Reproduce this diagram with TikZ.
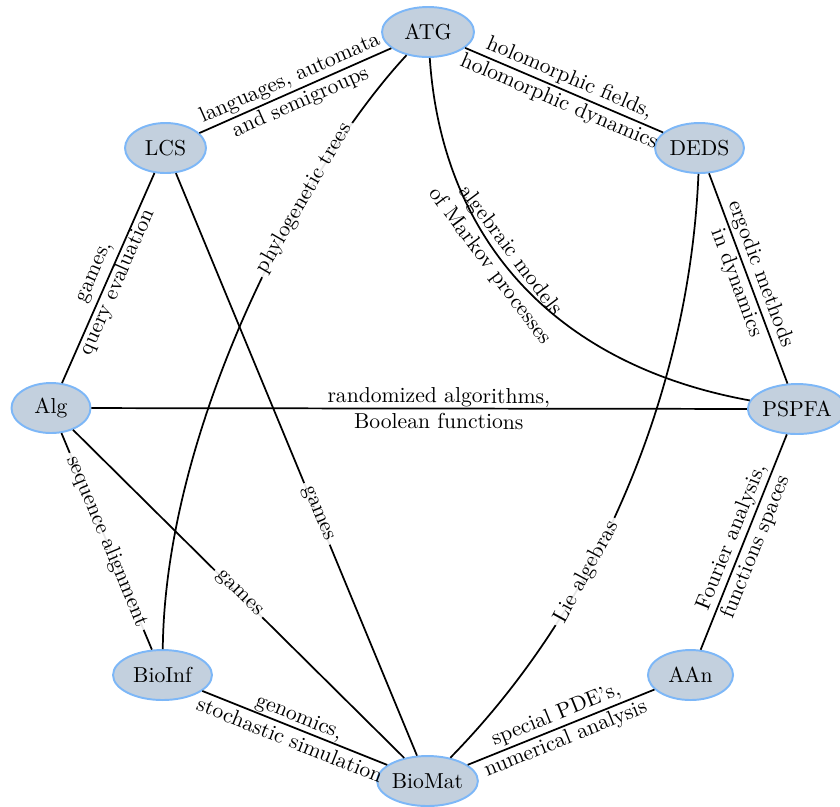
\documentclass[tikz,border=0pt]{standalone}
\usetikzlibrary{shapes.geometric}
\definecolor{nodefill}{RGB}{195,208,222}
\definecolor{nodeline}{RGB}{125,183,247}
\begin{document}
\begin{tikzpicture}[x=0.462pt,y=-0.462pt,
  topic/.style={ellipse,draw=nodeline,fill=nodefill,line width=0.9pt,inner sep=0pt,minimum height=23.1pt},
  link/.style={line width=0.8pt},
  lab/.style={sloped,align=center},
  flab/.style={sloped,fill=white,fill opacity=0.9,text opacity=1,inner sep=2pt}]
\useasboundingbox (0,0) rectangle (840,806);
\node[topic,minimum width=42.5pt] (ATG) at (428,32) {ATG};
\node[topic,minimum width=37.4pt] (LCS) at (165.5,148) {LCS};
\node[topic,minimum width=41.1pt] (DEDS) at (699.5,148) {DEDS};
\node[topic,minimum width=36.5pt] (Alg) at (51,408) {Alg};
\node[topic,minimum width=43.4pt] (PSPFA) at (797,409) {PSPFA};
\node[topic,minimum width=45.7pt] (BioInf) at (162.5,675) {BioInf};
\node[topic,minimum width=39.3pt] (AAn) at (690.5,675) {AAn};
\node[topic,minimum width=45.7pt] (BioMat) at (427.5,781) {BioMat};

\draw[link] (ATG) -- node[lab]{languages, automata\\and semigroups} (LCS);
\draw[link] (ATG) -- node[lab]{holomorphic fields,\\holomorphic dynamics} (DEDS);
\draw[link] (ATG) .. controls (442,240) and (555,365) .. node[lab,pos=0.43]{algebraic models\\of Markov processes} (PSPFA);
\draw[link] (DEDS) .. controls (690,380) and (605,600) .. node[flab,pos=0.65]{Lie algebras} (BioMat);
\draw[link] (ATG) .. controls (300,170) and (165,430) .. node[flab,pos=0.31]{phylogenetic trees} (BioInf);
\draw[link] (LCS) -- node[lab]{games,\\query evaluation} (Alg);
\draw[link] (LCS) -- node[flab,pos=0.585]{games} (BioMat);
\draw[link] (Alg) -- node[flab]{games} (BioMat);
\draw[link] (Alg) -- node[lab,pos=0.53]{randomized algorithms,\\Boolean functions} (PSPFA);
\draw[link] (Alg) -- node[flab]{sequence alignment} (BioInf);
\draw[link] (DEDS) -- node[lab]{ergodic methods\\in dynamics} (PSPFA);
\draw[link] (PSPFA) -- node[lab]{Fourier analysis,\\functions spaces} (AAn);
\draw[link] (AAn) -- node[lab]{special PDE's,\\numerical analysis} (BioMat);
\draw[link] (BioInf) -- node[lab]{genomics,\\stochastic simulation} (BioMat);
\end{tikzpicture}
\end{document}
